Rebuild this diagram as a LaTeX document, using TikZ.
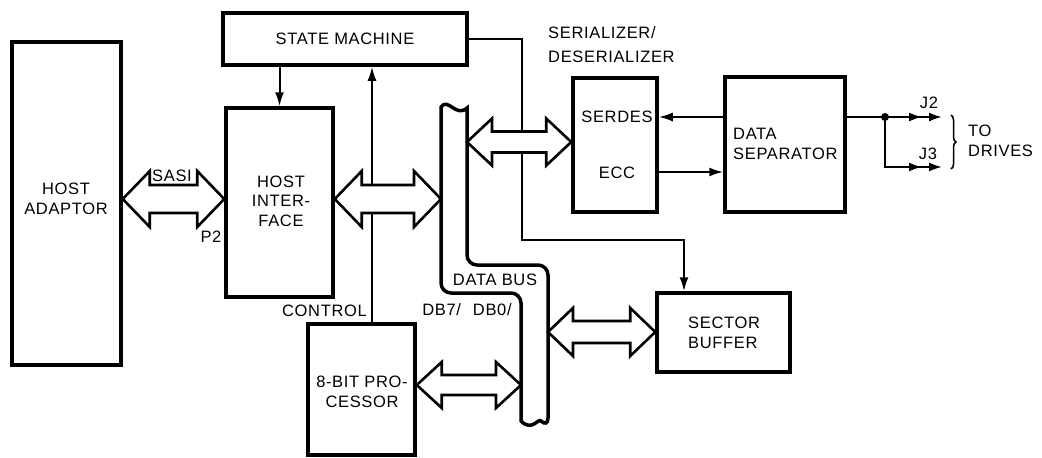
\documentclass[tikz,border=0pt]{standalone}
\usepackage{fontspec}
\setmainfont{Liberation Sans}[LetterSpace=4]
\usetikzlibrary{arrows.meta,calc,decorations.pathreplacing}
\newcommand\fatarrow[5]{%
  \path[fatarr] let \p1=(#1), \p2=(#2) in
    (\x1,\y1) -- (\x1+#3,\y1+#5) -- (\x1+#3,\y1+#4) -- (\x2-#3,\y1+#4) --
    (\x2-#3,\y1+#5) -- (\x2,\y1) -- (\x2-#3,\y1-#5) -- (\x2-#3,\y1-#4) --
    (\x1+#3,\y1-#4) -- (\x1+#3,\y1-#5) -- cycle;}
\begin{document}
\begin{tikzpicture}[x=1pt,y=-1pt,
  box/.style={draw,line width=3.5pt,inner sep=0pt},
  lbl/.style={font=\fontsize{16.5}{19.5}\selectfont,inner sep=0pt,align=center},
  conn/.style={line width=2pt},
  tip/.style={-{Latex[length=14pt,width=9pt]}},
  dtip/.style={-{Latex[length=13pt,width=9pt,sep=7pt]Latex[length=13pt,width=9pt]}},
  fatarr/.style={fill=white,draw,line width=2.6pt,line join=miter}]
\useasboundingbox (0,0) rectangle (1042,458);

% blocks
\node[box,minimum width=109pt,minimum height=323pt] (hostad) at (66.5,203.5) {};
\node[lbl] (hostadt) at (66,199) {HOST\\ADAPTOR};
\node[box,lbl,minimum width=244pt,minimum height=52pt] (sm) at (345,39) {STATE MACHINE};
\node[box,minimum width=107pt,minimum height=189pt] (hif) at (279.5,202.5) {};
\node[lbl] (hift) at (281,201) {HOST\\INTER-\\FACE};
\node[box,minimum width=107pt,minimum height=131pt] (proc) at (361.5,389.5) {};
\node[lbl] (proct) at (362,392) {8-BIT PRO-\\CESSOR};
\node[box,minimum width=84pt,minimum height=134pt] (serdes) at (615,145) {};
\node[lbl] (serdest) at (617,117) {SERDES};
\node[lbl] (ecct) at (617,173) {ECC};
\node[box,minimum width=120pt,minimum height=135pt] (dsep) at (785,144.5) {};
\node[lbl,align=left,anchor=west] (dsept) at (733,144) {DATA\\SEPARATOR};
\node[box,minimum width=133pt,minimum height=79pt] (sbuf) at (723.5,332.5) {};
\node[lbl,align=left,anchor=west] (sbuft) at (688,333) {SECTOR\\BUFFER};

% data bus
\draw[line width=3.5pt] (441,107) .. controls (448,97) and (456,118) .. (467,108)
  [rounded corners=10pt] -- (467,265) -- (548,265) -- (548,428) [sharp corners]
  .. controls (538,418) and (532,432) .. (521,421)
  [rounded corners=10pt] -- (521,293) -- (441,293) [sharp corners] -- cycle;
\coordinate (busA) at (441,199);
\coordinate (busB) at (467,142);
\coordinate (busC) at (521,385);
\coordinate (busD) at (548,332);

% thin connectors
\coordinate (cx) at (372,0);
\draw[conn,tip] (proc.north -| cx) -- (sm.south -| cx);
\draw[conn,tip] (sm.south -| hif.north) -- (hif.north);
\coordinate (bend1) at (522,240);
\coordinate (sbin) at ([xshift=-39.5pt]sbuf.north);
\draw[conn,tip] (sm.east) -| (bend1) -| (sbin);
\coordinate (y1) at (0,117);
\coordinate (y2) at (0,172);
\draw[conn,tip] (dsep.west |- y1) -- (serdes.east |- y1);
\draw[conn,tip] (serdes.east |- y2) -- (dsep.west |- y2);
\coordinate (jn) at (885,117);
\coordinate (j2) at (942,117);
\coordinate (j3) at (942,167);
\draw[conn,dtip] (dsep.east |- y1) -- (j2);
\draw[conn,dtip] (jn) |- (j3);
\fill (jn) circle (4pt);
\draw[line width=1.5pt,decorate,decoration={brace,amplitude=5pt}] (951,115) -- (951,169);

% fat bus arrows
\coordinate (ya) at (0,199);
\fatarrow{hostad.east |- ya}{hif.west |- ya}{27pt}{14pt}{28pt}
\fatarrow{hif.east |- ya}{busA}{27pt}{14pt}{28pt}
\fatarrow{busB}{serdes.west |- busB}{25pt}{10.5pt}{23.5pt}
\fatarrow{proc.east |- busC}{busC}{25pt}{10pt}{23pt}
\fatarrow{busD}{sbuf.west |- busD}{25pt}{11pt}{24pt}

% labels
\node[lbl] (j2t) at (929,103) {J2};
\node[lbl] (j3t) at (928,154) {J3};
\node[lbl,align=left,anchor=west] (todr) at (968,141) {TO\\DRIVES};
\node[lbl,align=left,anchor=west,font=\fontsize{16.5}{24}\selectfont] (sert) at (548,45) {SERIALIZER/\\DESERIALIZER};
\node[lbl] (sasi) at (172,176) {SASI};
\node[lbl] (p2) at (211,237) {P2};
\node[lbl,anchor=east] (ctrl) at (367,311) {CONTROL};
\node[lbl] (dbus) at (495,280) {DATA BUS};
\node[lbl] (dbn) at (467,310) {DB7/\hspace{12pt}DB0/};
\end{tikzpicture}
\end{document}
